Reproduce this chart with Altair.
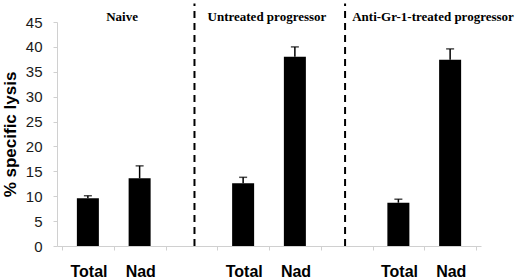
import altair as alt
import pandas as pd

# ---- data ----
groups = ["Naive", "Untreated progressor", "Anti-Gr-1-treated progressor"]
cells = ["Total", "Nad"]
lysis = [9.6, 13.6, 12.6, 38.0, 8.7, 37.4]       # % specific lysis (bar tops)
error = [0.5, 2.5, 1.2, 2.0, 0.7, 2.2]           # upper SE bars

# x slots: two cell types per group, blank slot between groups
slots = []
for gi, g in enumerate(groups):
    for c in cells:
        slots.append((g, c))
    if gi < len(groups) - 1:
        slots.append((None, ""))
n_slots = len(slots)

# annotation positions in category units (0..8 across the axis)
divider_pos = [2.56, 5.47]
title_pos = [1.16, 3.96, 7.17]
y_max = 45
y_ticks = [0, 5, 10, 15, 20, 25, 30, 35, 40, 45]
divider_top = 48.7
title_y = 45.2

rows = []
i = 0
for si, (g, c) in enumerate(slots):
    if g is None:
        continue
    rows.append({"pos": si + 0.5, "group": g, "cell": c,
                 "lysis": lysis[i], "top": lysis[i] + error[i]})
    i += 1
df = pd.DataFrame(rows)
div_df = pd.DataFrame({"pos": divider_pos, "lysis": [0] * len(divider_pos),
                       "top": [divider_top] * len(divider_pos)})
title_df = pd.DataFrame({"pos": title_pos, "label": groups,
                         "lysis": [title_y] * len(groups)})

slot_labels = [c for (_, c) in slots] + [""]
label_expr = "[" + ",".join(f"'{s}'" for s in slot_labels) + "][round(datum.value)]"

x_scale = alt.Scale(domain=[0, n_slots], nice=False, zero=False)
x_axis = alt.Axis(
    title=None, values=list(range(0, n_slots + 1)), labelExpr=label_expr,
    labelAngle=0, labelOffset=26.5, labelOverlap=False, labelFlush=False,
    labelBound=False,
    labelFont="Liberation Sans", labelFontSize=16, labelFontWeight="bold",
    labelColor="#000000", labelPadding=13, labelBaseline="top",
    tickSize=4, tickColor="#d0d0d0", domainColor="#d0d0d0", grid=False,
)
y_scale = alt.Scale(domain=[0, y_max], nice=False, zero=True)
y_axis = alt.Axis(
    title="% specific lysis", values=y_ticks, grid=False,
    labelOverlap=False, labelFlush=False, labelBound=False,
    labelFont="Liberation Sans", labelFontSize=15, labelColor="#1a1a1a",
    labelPadding=11, tickSize=4, tickColor="#d0d0d0", domainColor="#d0d0d0",
    titleFont="Liberation Sans", titleFontSize=17, titleFontWeight="bold",
    titleColor="#000000", titlePadding=6,
)

X = alt.X("pos:Q", scale=x_scale, axis=x_axis)
Y = alt.Y("lysis:Q", scale=y_scale, axis=y_axis)
Ytop = alt.Y("top:Q", scale=y_scale, axis=y_axis)

bars = alt.Chart(df).mark_bar(size=22, color="#000000").encode(x=X, y=Y)
err_line = alt.Chart(df).mark_rule(color="#000000", strokeWidth=1.5).encode(
    x=X, y=Y, y2="top:Q")
err_cap = alt.Chart(df).mark_tick(
    color="#000000", size=8, thickness=1.5, orient="horizontal"
).encode(x=X, y=Ytop)

dividers = alt.Chart(div_df).mark_rule(
    color="#000000", strokeWidth=2, strokeDash=[7, 5]
).encode(x=X, y=Y, y2="top:Q")
titles = alt.Chart(title_df).mark_text(
    font="Liberation Serif", fontSize=13, fontWeight="bold",
    color="#000000", baseline="alphabetic", align="center"
).encode(x=X, y=Y, text="label:N")

chart = alt.layer(bars, err_line, err_cap, dividers, titles).properties(
    width=424, height=224,
    autosize=alt.AutoSizeParams(type="none"),
    padding={"left": 57, "top": 22, "right": 39, "bottom": 33},
    background="#ffffff",
).configure_view(stroke=None)

chart.save("out.html", embed_options={"renderer": "svg", "actions": False})
